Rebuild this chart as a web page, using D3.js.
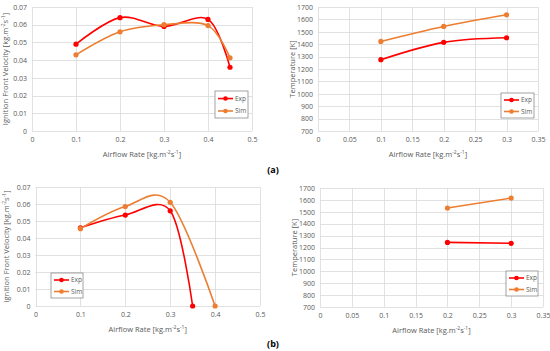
<!DOCTYPE html>
<html>
<head>
<meta charset="utf-8">
<script src="https://cdn.jsdelivr.net/npm/d3@7"></script>
<style>
  body { margin: 0; background: #fff; }
  svg { display: block; }
  text { font-family: "Open Sans", "Liberation Sans", sans-serif; fill: #595959; }
</style>
</head>
<body>
<svg id="chart" width="550" height="351"></svg>
<script>
// panel (a) left: ignition front velocity
var xVelA = [0.1, 0.2, 0.3, 0.4, 0.45];
var expVelA = [0.049, 0.064, 0.059, 0.063, 0.036];
var simVelA = [0.043, 0.056, 0.060, 0.0595, 0.0413];

// panel (a) right: temperature
var xTempA = [0.1, 0.2, 0.3];
var expTempA = [1275, 1415, 1452];
var simTempA = [1422, 1543, 1637];

// panel (b) left: ignition front velocity
var xExpVelB = [0.1, 0.2, 0.3, 0.35];
var expVelB = [0.046, 0.0535, 0.056, 0];
var xSimVelB = [0.1, 0.2, 0.3, 0.4];
var simVelB = [0.0455, 0.0585, 0.061, 0];

// panel (b) right: temperature
var xTempB = [0.2, 0.3];
var expTempB = [1243, 1235];
var simTempB = [1532, 1615];

var velTicks = [0, 0.01, 0.02, 0.03, 0.04, 0.05, 0.06, 0.07];
var tempTicks = [700, 800, 900, 1000, 1100, 1200, 1300, 1400, 1500, 1600, 1700];
var xTicksVel = [0, 0.1, 0.2, 0.3, 0.4, 0.5];
var xTicksTemp = [0, 0.05, 0.1, 0.15, 0.2, 0.25, 0.3, 0.35];

var RED = "#ff0000", ORANGE = "#ed7d31";
var svg = d3.select("#chart");

function addTitle(t, parts) {
    // parts: [text, superscript?]
    parts.forEach(function(p) {
        var ts = t.append("tspan").text(p[0]);
        if (p[1]) ts.attr("baseline-shift", "super").style("font-size", "5px");
    });
}

function drawPanel(cfg) {
    var g = svg.append("g");
    var x = d3.scaleLinear().domain(cfg.xDomain).range([cfg.left, cfg.right]);
    var y = d3.scaleLinear().domain(cfg.yDomain).range([cfg.bottom, cfg.top]);

    // gridlines
    g.selectAll(".hg").data(cfg.yTicks).enter().append("line")
        .attr("x1", cfg.left).attr("x2", cfg.right)
        .attr("y1", function(d) { return Math.round(y(d)) + 0.5; })
        .attr("y2", function(d) { return Math.round(y(d)) + 0.5; })
        .attr("stroke", "#d9d9d9").attr("stroke-width", 0.8);
    g.selectAll(".vg").data(cfg.xTicks).enter().append("line")
        .attr("y1", cfg.top).attr("y2", cfg.bottom)
        .attr("x1", function(d) { return Math.round(x(d)) + 0.5; })
        .attr("x2", function(d) { return Math.round(x(d)) + 0.5; })
        .attr("stroke", "#d9d9d9").attr("stroke-width", 0.8);

    // axes (labels only, Excel style)
    var xa = g.append("g").attr("transform", "translate(0," + cfg.bottom + ")")
        .call(d3.axisBottom(x).tickValues(cfg.xTicks).tickSize(0).tickPadding(6)
              .tickFormat(function(d) { return d3.format("")(+d.toFixed(2)); }));
    var ya = g.append("g").attr("transform", "translate(" + cfg.left + ",0)")
        .call(d3.axisLeft(y).tickValues(cfg.yTicks).tickSize(0).tickPadding(5)
              .tickFormat(function(d) { return d3.format("")(+d.toFixed(2)); }));
    [xa, ya].forEach(function(a) {
        a.select(".domain").remove();
        a.selectAll("text").style("font-size", "7px").attr("fill", "#595959")
            .style("font-family", "'Open Sans', 'Liberation Sans', sans-serif");
    });

    // axis titles
    var xt = g.append("text").attr("x", (cfg.left + cfg.right) / 2).attr("y", cfg.bottom + 26)
        .attr("text-anchor", "middle").style("font-size", "7.5px");
    addTitle(xt, [["Airflow Rate [kg.m"], ["-2", true], ["s"], ["-1", true], ["]"]]);
    var yt = g.append("text")
        .attr("transform", "translate(" + cfg.yTitleX + "," + (cfg.top + cfg.bottom) / 2 + ") rotate(-90)")
        .attr("text-anchor", "middle").style("font-size", "7.5px");
    addTitle(yt, cfg.yTitle);

    // series
    var line = d3.line().curve(d3.curveCardinal.tension(0))
        .x(function(d) { return x(d[0]); }).y(function(d) { return y(d[1]); });
    cfg.series.forEach(function(s) {
        var pts = d3.zip(s.x, s.y);
        g.append("path").datum(pts).attr("d", line)
            .attr("fill", "none").attr("stroke", s.color).attr("stroke-width", 1.6);
        g.selectAll(null).data(pts).enter().append("circle")
            .attr("cx", function(d) { return x(d[0]); })
            .attr("cy", function(d) { return y(d[1]); })
            .attr("r", 2.6).attr("fill", s.color);
    });

    // legend
    var L = cfg.legend;
    var lg = g.append("g").attr("transform", "translate(" + L.x + "," + L.y + ")");
    lg.append("rect").attr("width", L.w).attr("height", L.h)
        .attr("fill", "#fff").attr("stroke", "#8c8c8c").attr("stroke-width", 0.8);
    cfg.series.forEach(function(s, i) {
        var yy = L.h * (0.28 + 0.46 * i);
        lg.append("line").attr("x1", 3).attr("x2", 18).attr("y1", yy).attr("y2", yy)
            .attr("stroke", s.color).attr("stroke-width", 1.6);
        lg.append("circle").attr("cx", 10.5).attr("cy", yy).attr("r", 2.3).attr("fill", s.color);
        lg.append("text").attr("x", 20).attr("y", yy).attr("dy", "0.35em")
            .style("font-size", "6.5px").text(s.name);
    });
}

var velTitle = [["Ignition Front Velocity [kg.m"], ["-2", true], ["s"], ["-1", true], ["]"]];
var tempTitle = [["Temperature [K]"]];

drawPanel({
    left: 32, right: 252, top: 7, bottom: 131,
    xDomain: [0, 0.5], yDomain: [0, 0.07], xTicks: xTicksVel, yTicks: velTicks,
    yTitleX: 8, yTitle: velTitle,
    series: [
        {name: "Exp", x: xVelA, y: expVelA, color: RED},
        {name: "Sim", x: xVelA, y: simVelA, color: ORANGE}
    ],
    legend: {x: 215, y: 91, w: 33, h: 27}
});

drawPanel({
    left: 318, right: 538, top: 7, bottom: 131,
    xDomain: [0, 0.35], yDomain: [700, 1700], xTicks: xTicksTemp, yTicks: tempTicks,
    yTitleX: 295, yTitle: tempTitle,
    series: [
        {name: "Exp", x: xTempA, y: expTempA, color: RED},
        {name: "Sim", x: xTempA, y: simTempA, color: ORANGE}
    ],
    legend: {x: 501, y: 93, w: 33, h: 25}
});

drawPanel({
    left: 35.5, right: 260, top: 187, bottom: 306,
    xDomain: [0, 0.5], yDomain: [0, 0.07], xTicks: xTicksVel, yTicks: velTicks,
    yTitleX: 9, yTitle: velTitle,
    series: [
        {name: "Exp", x: xExpVelB, y: expVelB, color: RED},
        {name: "Sim", x: xSimVelB, y: simVelB, color: ORANGE}
    ],
    legend: {x: 51, y: 273, w: 32, h: 25}
});

drawPanel({
    left: 320, right: 543, top: 188, bottom: 307,
    xDomain: [0, 0.35], yDomain: [700, 1700], xTicks: xTicksTemp, yTicks: tempTicks,
    yTitleX: 297, yTitle: tempTitle,
    series: [
        {name: "Exp", x: xTempB, y: expTempB, color: RED},
        {name: "Sim", x: xTempB, y: simTempB, color: ORANGE}
    ],
    legend: {x: 506, y: 271, w: 32, h: 25}
});

// panel labels
svg.append("text").attr("x", 273).attr("y", 173).attr("text-anchor", "middle")
    .style("font-size", "9px").style("font-weight", "bold").style("fill", "#000").text("(a)");
svg.append("text").attr("x", 273).attr("y", 347).attr("text-anchor", "middle")
    .style("font-size", "9px").style("font-weight", "bold").style("fill", "#000").text("(b)");
</script>
</body>
</html>
